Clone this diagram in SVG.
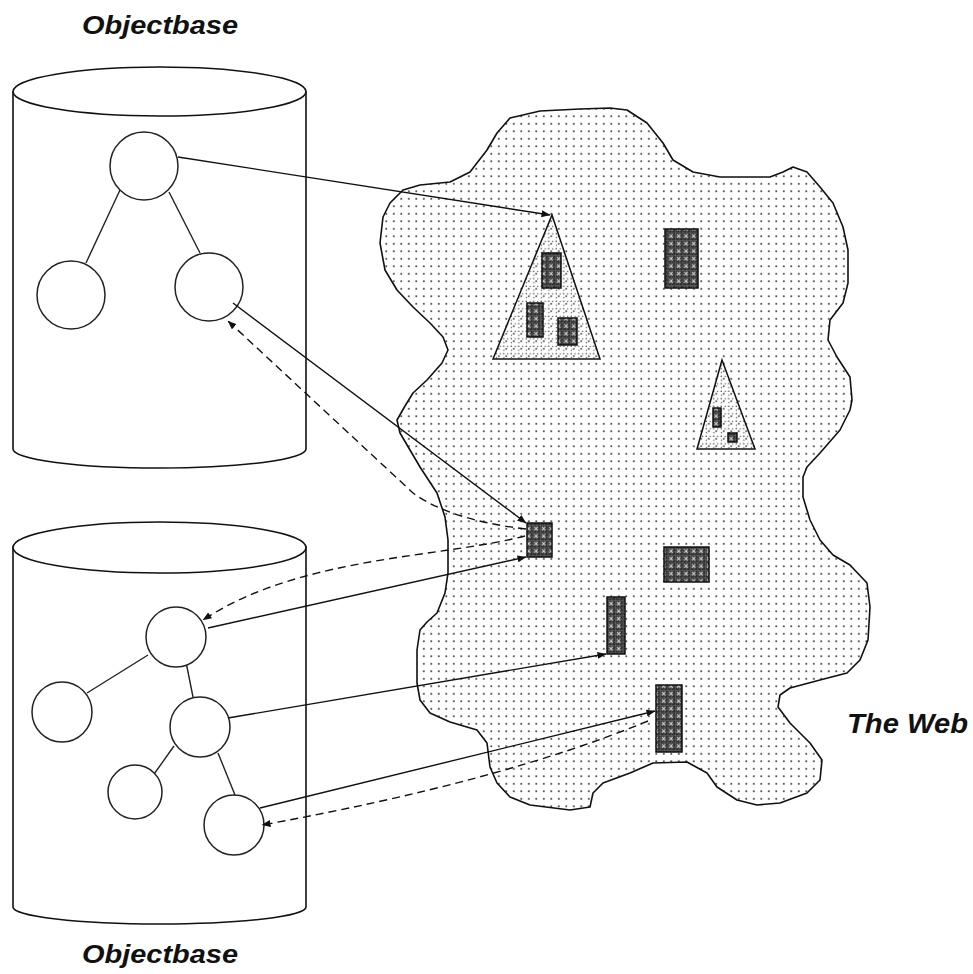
<svg xmlns="http://www.w3.org/2000/svg" width="973" height="974" viewBox="0 0 973 974">
<style>
.outline{fill:#fff;stroke:#111;stroke-width:1.6}
.node{fill:#fff;stroke:#222;stroke-width:1.5}
.edge{fill:none;stroke:#222;stroke-width:1.4}
.link{fill:none;stroke:#111;stroke-width:1.4}
.dash{fill:none;stroke:#111;stroke-width:1.4;stroke-dasharray:8 5}
.doc{fill:url(#cross);stroke:#111;stroke-width:1.5}
.tri{fill:url(#dense);stroke:#111;stroke-width:1.5}
.label{font-family:"Liberation Sans",Arial,sans-serif;font-weight:bold;font-style:italic;fill:#111}
</style>
<defs>
<pattern id="dots" width="7.5" height="7.5" patternUnits="userSpaceOnUse">
<rect width="7.5" height="7.5" fill="#fff"/>
<rect x="3" y="3" width="1.6" height="1.6" fill="#222"/>
</pattern>
<pattern id="dense" width="7.5" height="7.5" patternUnits="userSpaceOnUse">
<rect width="7.5" height="7.5" fill="#fff"/>
<rect x="3" y="3" width="1.5" height="1.5" fill="#222"/>
<rect x="0.6" y="0.6" width="1.3" height="1.3" fill="#444"/>
<rect x="4.6" y="0.8" width="1.2" height="1.2" fill="#555"/>
<rect x="0.8" y="4.6" width="1.2" height="1.2" fill="#555"/>
</pattern>
<pattern id="cross" width="7.5" height="7.5" patternUnits="userSpaceOnUse">
<rect width="7.5" height="7.5" fill="#303030"/>
<path d="M0 0.5H7.5M0 4.25H7.5M0.5 0V7.5M4.25 0V7.5" stroke="#666" stroke-width="0.6"/>
<path d="M1.8 1.8L5.4 5.4M5.4 1.8L1.8 5.4" stroke="#d8d8d8" stroke-width="1"/>
</pattern>
<marker id="arr" viewBox="0 0 9 7" refX="8.5" refY="3.5" markerWidth="9" markerHeight="7" markerUnits="userSpaceOnUse" orient="auto">
<path d="M0 0L9 3.5L0 7z" fill="#111"/>
</marker>
</defs>

<g id="label-top"><text class="label" x="82" y="34" font-size="26" textLength="156" lengthAdjust="spacingAndGlyphs">Objectbase</text></g>
<g id="label-bottom"><text class="label" x="82" y="963" font-size="26" textLength="156" lengthAdjust="spacingAndGlyphs">Objectbase</text></g>
<g id="label-web"><text class="label" x="847" y="733" font-size="27" textLength="121" lengthAdjust="spacingAndGlyphs">The Web</text></g>

<g id="objectbase-top">
<path class="outline" d="M13 92L13 449A146.5 19 0 0 0 306 449L306 92Z"/>
<ellipse class="outline" cx="159.5" cy="91.5" rx="146.5" ry="24.5"/>
</g>
<g id="objectbase-bottom">
<path class="outline" d="M13 547L13 907A146.5 17 0 0 0 306 907L306 547Z"/>
<ellipse class="outline" cx="159.5" cy="547.5" rx="146.5" ry="25.5"/>
</g>

<g id="tree-top">
<line class="edge" x1="120" y1="190" x2="86" y2="263"/>
<line class="edge" x1="169" y1="192" x2="200" y2="253"/>
<g id="t-root"><circle class="node" cx="144" cy="166" r="34"/></g>
<g id="t-left"><circle class="node" cx="71" cy="295" r="34"/></g>
<g id="t-right"><circle class="node" cx="209" cy="287" r="34"/></g>
</g>

<g id="tree-bottom">
<line class="edge" x1="148" y1="655" x2="87" y2="693"/>
<line class="edge" x1="186" y1="662" x2="193" y2="697"/>
<line class="edge" x1="174" y1="746" x2="152" y2="777"/>
<line class="edge" x1="218" y1="753" x2="235" y2="795"/>
<g id="b-root"><circle class="node" cx="176" cy="637" r="30"/></g>
<g id="b-left"><circle class="node" cx="62" cy="712" r="30"/></g>
<g id="b-mid"><circle class="node" cx="200" cy="727" r="30"/></g>
<g id="b-small"><circle class="node" cx="135" cy="792" r="27"/></g>
<g id="b-leaf"><circle class="node" cx="234" cy="825" r="30"/></g>
</g>

<g id="web">
<path fill="url(#dots)" stroke="#111" stroke-width="1.6" stroke-linejoin="round" d="M540 111L580 109L610 108L627 110L647 123L663 143L673 160L693 172L720 177L770 177L783 172L793 167L807 172L820 187L833 203L843 227L848 250L848 283L843 303L830 320L828 340L837 357L850 377L852 400L850 410L840 430L820 453L807 467L803 477L803 497L810 520L820 540L833 555L850 565L867 583L870 607L868 640L860 660L847 673L820 680L790 688L780 695L778 707L790 723L810 743L822 760L820 780L807 793L780 803L757 805L737 800L717 787L707 773L687 762L653 763L630 773L603 783L593 793L590 807L570 810L530 805L510 797L497 783L490 767L487 743L477 730L450 722L430 713L420 700L417 683L417 650L420 630L427 622L437 613L445 593L448 573L448 540L445 517L437 493L420 467L400 433L397 420L405 406L413 393L427 380L442 363L448 350L443 337L430 323L413 307L397 290L385 270L380 243L383 217L390 203L403 190L420 185L450 182L470 172L487 150L497 133L510 118Z"/>
<g id="collection-1">
<path class="tri" d="M552 215L600 359L493 359Z"/>
<rect class="doc" x="542" y="253" width="19" height="35"/>
<rect class="doc" x="527" y="303" width="16" height="34"/>
<rect class="doc" x="558" y="318" width="19" height="27"/>
</g>
<g id="collection-2">
<path class="tri" d="M722 360L755 449L697 449Z"/>
<rect class="doc" x="713" y="408" width="8" height="19"/>
<rect class="doc" x="728" y="433" width="9" height="9"/>
</g>
<g id="doc-d"><rect class="doc" x="665" y="229" width="33" height="59"/></g>
<g id="doc-hub"><rect class="doc" x="527" y="523" width="25" height="34"/></g>
<g id="doc-e"><rect class="doc" x="664" y="547" width="45" height="35"/></g>
<g id="doc-g"><rect class="doc" x="607" y="597" width="18" height="57"/></g>
<g id="doc-f"><rect class="doc" x="656" y="685" width="26" height="67"/></g>
</g>

<g id="connectors">
<line class="link" x1="178" y1="157" x2="550" y2="215" marker-end="url(#arr)"/>
<line class="link" x1="233" y1="303" x2="526" y2="523" marker-end="url(#arr)"/>
<path class="dash" d="M526 529Q450 520 413 493L228 321" marker-end="url(#arr)"/>
<path class="dash" d="M525 536C440 558 300 556 203 620" marker-end="url(#arr)"/>
<line class="link" x1="208" y1="628" x2="526" y2="557" marker-end="url(#arr)"/>
<line class="link" x1="228" y1="718" x2="606" y2="654" marker-end="url(#arr)"/>
<line class="link" x1="260" y1="808" x2="655" y2="711" marker-end="url(#arr)"/>
<path class="dash" d="M648 721Q500 782 262 825" marker-end="url(#arr)"/>
</g>
</svg>
